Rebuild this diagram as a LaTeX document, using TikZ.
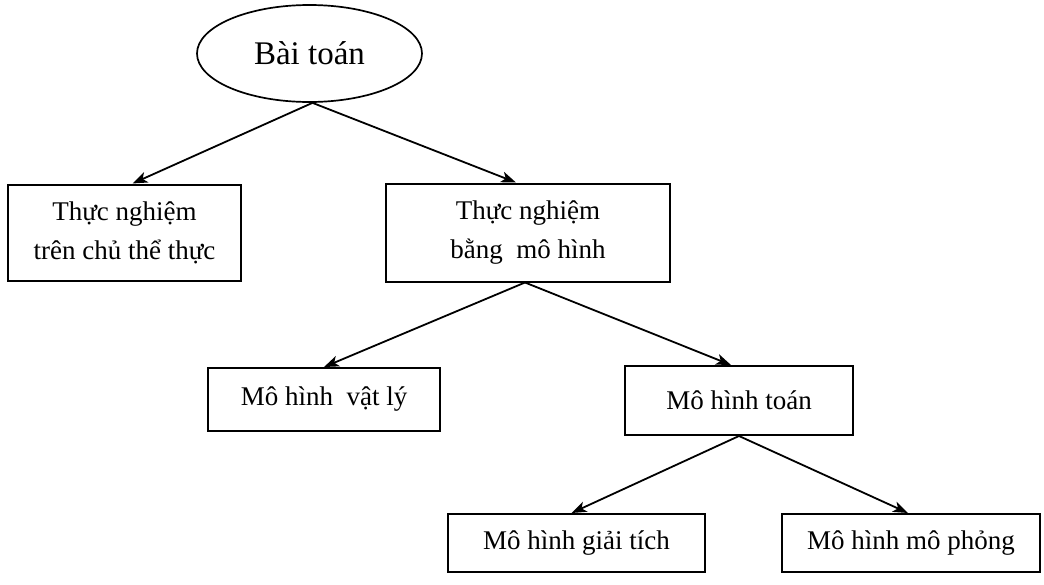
\documentclass[tikz,border=0pt]{standalone}
\usepackage{fontspec}
\setmainfont{Liberation Serif}
\usetikzlibrary{arrows.meta,shapes.geometric}
\begin{document}
\begin{tikzpicture}[x=1pt,y=-1pt,
  boxnode/.style={draw, line width=2pt, inner sep=0pt, align=center,
    font=\fontsize{27}{39}\selectfont},
  arr/.style={line width=1.8pt, -{Stealth[length=15pt,width=11pt,inset=4pt]}}]
\useasboundingbox[fill=white] (0,0) rectangle (1044,584);
\node[draw, ellipse, line width=1.7pt, minimum width=225pt, minimum height=97pt, inner sep=0pt,
  font=\fontsize{33}{38}\selectfont] (e) at (309.5,53.5) {Bài toán};
\node[boxnode, minimum width=233pt, minimum height=96pt] (b1) at (124.5,232.5) {Thực nghiệm\\trên chủ thể thực};
\node[boxnode, minimum width=284pt, minimum height=98pt] (b2) at (528,232.5) {Thực nghiệm\\bằng~ mô hình};
\node[boxnode, minimum width=232pt, minimum height=63pt] (b3) at (324,399.5) {Mô hình~ vật lý};
\node[boxnode, minimum width=228pt, minimum height=69pt] (b4) at (739,400.5) {Mô hình toán};
\node[boxnode, minimum width=257pt, minimum height=58pt] (b5) at (576.5,543) {Mô hình giải tích};
\node[boxnode, minimum width=258pt, minimum height=58pt] (b6) at (911,543) {Mô hình mô phỏng};
\draw[arr] ([xshift=3pt]e.south) -- ([xshift=8pt]b1.north);
\draw[arr] ([xshift=3pt]e.south) -- ([xshift=-12pt]b2.north);
\draw[arr] ([xshift=-3pt]b2.south) -- (b3.north);
\draw[arr] ([xshift=-3pt]b2.south) -- ([xshift=-8pt]b4.north);
\draw[arr] (b4.south) -- ([xshift=-5pt]b5.north);
\draw[arr] (b4.south) -- ([xshift=-3pt]b6.north);
\end{tikzpicture}
\end{document}
